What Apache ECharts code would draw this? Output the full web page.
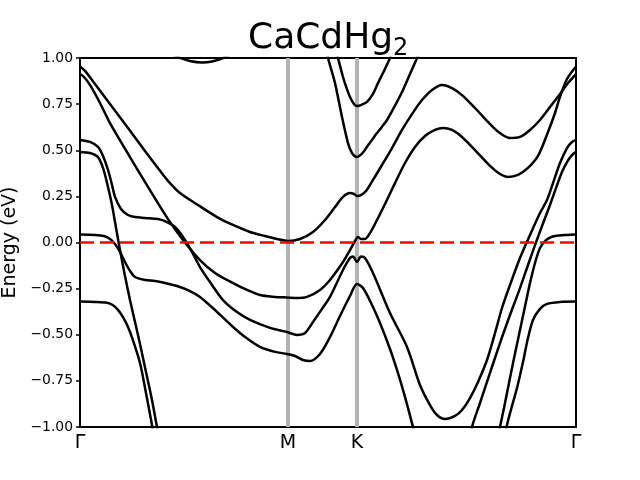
<!DOCTYPE html>
<html><head><meta charset="utf-8">
<script src="https://cdn.jsdelivr.net/npm/echarts@6/dist/echarts.min.js"></script>
<style>html,body{margin:0;padding:0;background:#fff}#c{width:640px;height:480px}</style>
</head><body><div id="c"></div>
<script>
// High-symmetry k positions and labels
const kTicks = [0, 2.08, 2.77, 4.96];
const kLabels = ['Γ', 'M', 'K', 'Γ'];
const fermiLevel = 0;
const yTicks = [-1, -0.75, -0.5, -0.25, 0, 0.25, 0.5, 0.75, 1];

// Bands: [k, E(eV)]
const band1 = [[0,0.954],[0.05,0.930],[0.15,0.859],[0.30,0.751],[0.48,0.621],[0.65,0.496],[0.81,0.382],[0.90,0.322],[1.00,0.268],[1.18,0.203],[1.37,0.138],[1.53,0.095],[1.70,0.057],[1.85,0.035],[1.97,0.019],[2.08,0.008],[2.20,0.019],[2.33,0.057],[2.45,0.122],[2.55,0.192],[2.63,0.247],[2.70,0.268],[2.74,0.263],[2.77,0.252],[2.81,0.257],[2.86,0.279],[2.93,0.339],[3.02,0.420],[3.12,0.512],[3.22,0.610],[3.32,0.696],[3.42,0.772],[3.52,0.827],[3.62,0.854],[3.72,0.837],[3.82,0.799],[3.95,0.729],[4.10,0.642],[4.20,0.593],[4.30,0.566],[4.40,0.572],[4.50,0.610],[4.60,0.664],[4.70,0.734],[4.80,0.805],[4.88,0.864],[4.96,0.913]];
const band2 = [[0,0.913],[0.04,0.897],[0.10,0.854],[0.20,0.756],[0.31,0.637],[0.50,0.463],[0.68,0.301],[0.88,0.127],[1.03,0.014],[1.20,-0.095],[1.35,-0.165],[1.53,-0.220],[1.67,-0.257],[1.80,-0.285],[1.95,-0.295],[2.07,-0.298],[2.17,-0.301],[2.27,-0.295],[2.40,-0.257],[2.50,-0.203],[2.63,-0.106],[2.70,-0.041],[2.75,0.008],[2.78,0.030],[2.81,0.019],[2.85,0.019],[2.90,0.051],[2.97,0.122],[3.05,0.209],[3.15,0.322],[3.25,0.431],[3.35,0.518],[3.45,0.577],[3.55,0.610],[3.63,0.621],[3.72,0.610],[3.82,0.572],[3.95,0.501],[4.10,0.415],[4.20,0.371],[4.28,0.355],[4.38,0.366],[4.48,0.404],[4.58,0.469],[4.68,0.599],[4.75,0.702],[4.80,0.789],[4.87,0.886],[4.96,0.954]];
const band3 = [[0,0.556],[0.10,0.545],[0.18,0.518],[0.23,0.469],[0.28,0.393],[0.32,0.312],[0.35,0.247],[0.41,0.182],[0.48,0.149],[0.55,0.138],[0.65,0.133],[0.78,0.127],[0.87,0.111],[0.95,0.084],[1.03,0.030],[1.11,-0.041],[1.20,-0.133],[1.32,-0.230],[1.43,-0.312],[1.57,-0.377],[1.70,-0.420],[1.90,-0.463],[2.07,-0.485],[2.17,-0.501],[2.25,-0.491],[2.33,-0.431],[2.42,-0.360],[2.50,-0.295],[2.63,-0.149],[2.70,-0.084],[2.73,-0.076],[2.77,-0.106],[2.81,-0.076],[2.85,-0.084],[2.93,-0.165],[3.10,-0.382],[3.27,-0.566],[3.40,-0.772],[3.50,-0.881],[3.57,-0.935],[3.65,-0.957],[3.75,-0.940],[3.82,-0.908],[3.90,-0.843],[3.98,-0.756],[4.07,-0.637],[4.15,-0.491],[4.22,-0.355],[4.30,-0.230],[4.40,-0.084],[4.50,0.041],[4.60,0.160],[4.67,0.230],[4.73,0.322],[4.80,0.431],[4.87,0.512],[4.92,0.545],[4.96,0.556]];
const band4 = [[0,0.491],[0.10,0.485],[0.18,0.463],[0.23,0.404],[0.28,0.301],[0.32,0.203],[0.35,0.111],[0.40,-0.041],[0.45,-0.182],[0.50,-0.312],[0.55,-0.431],[0.60,-0.550],[0.66,-0.702],[0.72,-0.854],[0.77,-1.000],[0.82,-1.125]];
const band5 = [[0,0.043],[0.15,0.041],[0.24,0.035],[0.30,0.019],[0.35,-0.008],[0.40,-0.051],[0.45,-0.106],[0.50,-0.154],[0.55,-0.187],[0.65,-0.203],[0.75,-0.209],[0.85,-0.220],[0.97,-0.236],[1.10,-0.263],[1.20,-0.295],[1.35,-0.366],[1.53,-0.458],[1.65,-0.512],[1.80,-0.566],[1.95,-0.593],[2.07,-0.604],[2.15,-0.615],[2.23,-0.637],[2.30,-0.642],[2.40,-0.604],[2.50,-0.512],[2.60,-0.398],[2.70,-0.290],[2.77,-0.225],[2.83,-0.247],[2.92,-0.339],[3.00,-0.436],[3.10,-0.577],[3.17,-0.691],[3.25,-0.837],[3.33,-1.000],[3.38,-1.098]];
const band6 = [[0,-0.320],[0.15,-0.322],[0.27,-0.327],[0.33,-0.340],[0.38,-0.365],[0.43,-0.405],[0.48,-0.458],[0.53,-0.530],[0.60,-0.653],[0.66,-0.816],[0.72,-0.989],[0.76,-1.103]];
const band7 = [[2.56,1.043],[2.58,1.000],[2.63,0.897],[2.66,0.846],[2.70,0.789],[2.74,0.751],[2.77,0.740],[2.81,0.745],[2.87,0.762],[2.93,0.805],[2.98,0.864],[3.04,0.930],[3.10,1.000],[3.14,1.054]];
const band8 = [[2.46,1.054],[2.48,1.000],[2.55,0.864],[2.62,0.680],[2.68,0.539],[2.72,0.485],[2.77,0.463],[2.80,0.472],[2.84,0.495],[2.87,0.519],[2.92,0.556],[2.97,0.593],[3.02,0.628],[3.07,0.664],[3.15,0.742],[3.23,0.827],[3.30,0.913],[3.37,1.000],[3.41,1.054]];
const band9 = [[0.80,1.068],[0.90,1.029],[1.00,1.001],[1.10,0.984],[1.22,0.976],[1.32,0.981],[1.43,1.000],[1.55,1.033]];
const band10 = [[4.16,-1.108],[4.20,-1.000],[4.25,-0.870],[4.32,-0.680],[4.40,-0.474],[4.47,-0.295],[4.50,-0.220],[4.55,-0.111],[4.60,-0.030],[4.65,0.008],[4.69,0.024],[4.75,0.035],[4.87,0.041],[4.96,0.043]];
const band11 = [[4.23,-1.098],[4.27,-0.989],[4.32,-0.886],[4.37,-0.789],[4.43,-0.648],[4.48,-0.518],[4.53,-0.420],[4.60,-0.360],[4.67,-0.333],[4.80,-0.322],[4.96,-0.320]];
const band12 = [[3.89,-1.108],[3.92,-1.000],[4.00,-0.870],[4.10,-0.707],[4.20,-0.545],[4.30,-0.393],[4.40,-0.247],[4.48,-0.122],[4.55,-0.014],[4.62,0.089],[4.70,0.203],[4.76,0.295],[4.82,0.382],[4.87,0.436],[4.92,0.474],[4.96,0.491]];

const bands = [band1, band2, band3, band4, band5, band6, band7, band8, band9, band10, band11, band12];
const FONT = '"DejaVu Sans", sans-serif';
const kMin = kTicks[0], kMax = kTicks[kTicks.length - 1];

const series = [];
kTicks.slice(1, -1).forEach(k => series.push({
  type: 'line', data: [[k, yTicks[0]], [k, yTicks[yTicks.length - 1]]], showSymbol: false, silent: true,
  lineStyle: { color: '#b3b3b3', width: 4 }, z: 1
}));
bands.forEach(b => series.push({
  type: 'line', data: b, showSymbol: false, smooth: 0.3, silent: true,
  lineStyle: { color: '#000', width: 2.5 }, z: 2
}));
series.push({
  type: 'line', data: [[kMin, fermiLevel], [kMax, fermiLevel]], showSymbol: false, silent: true,
  lineStyle: { color: '#ff0000', width: 2.5, type: [14, 6] }, z: 3
});

const chart = echarts.init(document.getElementById('c'));
chart.setOption({
  animation: false,
  backgroundColor: '#fff',
  title: {
    text: '{a|CaCdHg}{b|2}', left: 248, top: 21, padding: 0,
    textStyle: {
      rich: {
        a: { fontFamily: FONT, fontSize: 36, lineHeight: 36, fontWeight: 'normal', color: '#000', verticalAlign: 'top' },
        b: { fontFamily: FONT, fontSize: 24, lineHeight: 24, fontWeight: 'normal', color: '#000', verticalAlign: 'top', padding: [16, 0, 0, 0] }
      }
    }
  },
  grid: { left: 80, right: 64, top: 58, bottom: 53, outerBoundsMode: 'none', containLabel: false, show: true, borderColor: '#000', borderWidth: 2, backgroundColor: 'transparent' },
  xAxis: {
    type: 'value', min: kMin, max: kMax,
    axisLine: { show: false },
    splitLine: { show: false },
    axisTick: { show: true, customValues: kTicks, length: 4, lineStyle: { color: '#000', width: 1.5 } },
    axisLabel: { customValues: kTicks, formatter: v => kLabels[kTicks.indexOf(v)] ?? '', fontFamily: FONT, fontSize: 19, color: '#000', margin: 7, showMinLabel: true, showMaxLabel: true }
  },
  yAxis: {
    type: 'value', min: yTicks[0], max: yTicks[yTicks.length - 1], interval: 0.25,
    name: 'Energy (eV)', nameLocation: 'middle', nameGap: 55,
    nameTextStyle: { fontFamily: FONT, fontSize: 19, color: '#000' },
    axisLine: { show: false },
    splitLine: { show: false },
    axisTick: { show: true, length: 4, lineStyle: { color: '#000', width: 1.5 } },
    axisLabel: { formatter: v => (v < 0 ? '\u2212' : '') + Math.abs(v).toFixed(2), fontFamily: FONT, fontSize: 13.9, color: '#000', margin: 7 }
  },
  series: series
});
</script></body></html>
